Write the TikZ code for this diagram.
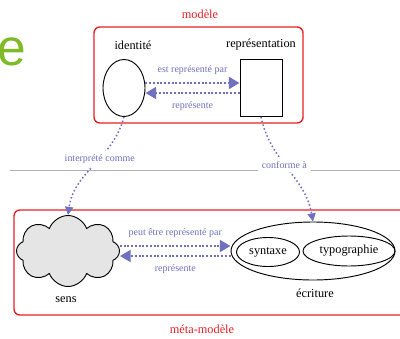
\documentclass[tikz,border=0pt]{standalone}
\usepackage{fontspec}
\setmainfont{Liberation Serif}
\newfontfamily\titlefont{Liberation Sans}
\usepackage{tikz}
\usetikzlibrary{shapes,shapes.geometric,shapes.symbols,arrows.meta,positioning,calc}
\definecolor{boxred}{RGB}{232,30,36}
\definecolor{linkblue}{RGB}{112,112,192}
\definecolor{titlegreen}{RGB}{128,186,39}

\tikzset{
  modelbox/.style={draw=boxred, line width=1.2pt, rounded corners=5pt},
  link/.style={draw=linkblue, line width=1.8pt, dash pattern=on 1.6pt off 1.6pt, -{Triangle[length=9pt,width=10pt]}},
  curvelink/.style={draw=linkblue, line width=1.3pt, dash pattern=on 1.3pt off 2pt, -{Triangle[length=7pt,width=7pt]}},
  linklabel/.style={text=linkblue, font=\fontsize{8.5}{10}\selectfont},
  shapelabel/.style={font=\fontsize{10.5}{12}\selectfont},
  thing/.style={draw, line width=0.8pt, inner sep=0pt}
}

\begin{document}
\begin{tikzpicture}[x=0.03cm, y=-0.03cm]
        \useasboundingbox (0,0) rectangle (400,338);
        \clip (0,0) rectangle (400,338);
        \node[anchor=base east, text=titlegreen, font=\titlefont\fontsize{44}{44}\selectfont, inner sep=0pt] (titlee) at (26,65) {e};

        % separator
        \draw[gray!60, line width=0.6pt] (10,170) -- (400,170);

        % modele
        \draw[modelbox] (94,27) rectangle (303,123);
        \node[text=boxred, shapelabel] (modele) at (200,14) {modèle};
        \node[thing, ellipse, minimum width=1.26cm, minimum height=1.71cm] (ident) at (124,88) {};
        \node[thing, rectangle, minimum width=1.26cm, minimum height=1.71cm] (repr) at (261,88) {};
        \node[shapelabel] (identlbl) at (133,45) {identité};
        \node[shapelabel] (reprlbl) at (261,45) {représentation};

        \draw[link] ([yshift=0.15cm]ident.east) -- node[linklabel, above=3pt] (estrep) {est représenté par} ([yshift=0.15cm]repr.west);
        \draw[link] ([yshift=-0.15cm]repr.west) -- node[linklabel, below=3pt] (rep) {représente} ([yshift=-0.15cm]ident.east);

        % meta-modele
        \draw[modelbox] (401,210) -- (14,210) -- (14,315) -- (401,315);
        \node[text=boxred, shapelabel] (meta) at (202,329) {méta-modèle};
        \node[thing, cloud, fill=gray!20, cloud puffs=8, cloud puff arc=140, aspect=1.45, minimum width=3.09cm, minimum height=2.13cm] (sens) at (68,251) {};
        \node[thing, ellipse, minimum width=4.92cm, minimum height=1.74cm] (ecrit) at (313,251) {};
        \node[thing, ellipse, minimum width=1.89cm, minimum height=0.87cm, shapelabel] (synt) at (268,252) {syntaxe};
        \node[thing, ellipse, minimum width=2.76cm, minimum height=0.9cm, shapelabel] (typo) at (349,251) {typographie};
        \node[shapelabel] (senslbl) at (66,300) {sens};
        \node[shapelabel] (ecritlbl) at (315,293) {écriture};

        \draw[link] ([yshift=0.15cm]sens.east) -- node[linklabel, above=3pt] (peut) {peut être représenté par} ([yshift=0.15cm]ecrit.west);
        \draw[link] ([yshift=-0.15cm]ecrit.west) -- node[linklabel, below=3pt] (rep2) {représente} ([yshift=-0.15cm]sens.east);

        % between the two levels
        \draw[curvelink] (ident.south) to[out=-105, in=82] node[linklabel, fill=white, pos=0.42] (interp) {interprété comme} (sens.north);
        \draw[curvelink] (repr.south) to[out=-78, in=100] node[linklabel, fill=white, pos=0.45] (conf) {conforme à} (ecrit.north);
\end{tikzpicture}
\end{document}
